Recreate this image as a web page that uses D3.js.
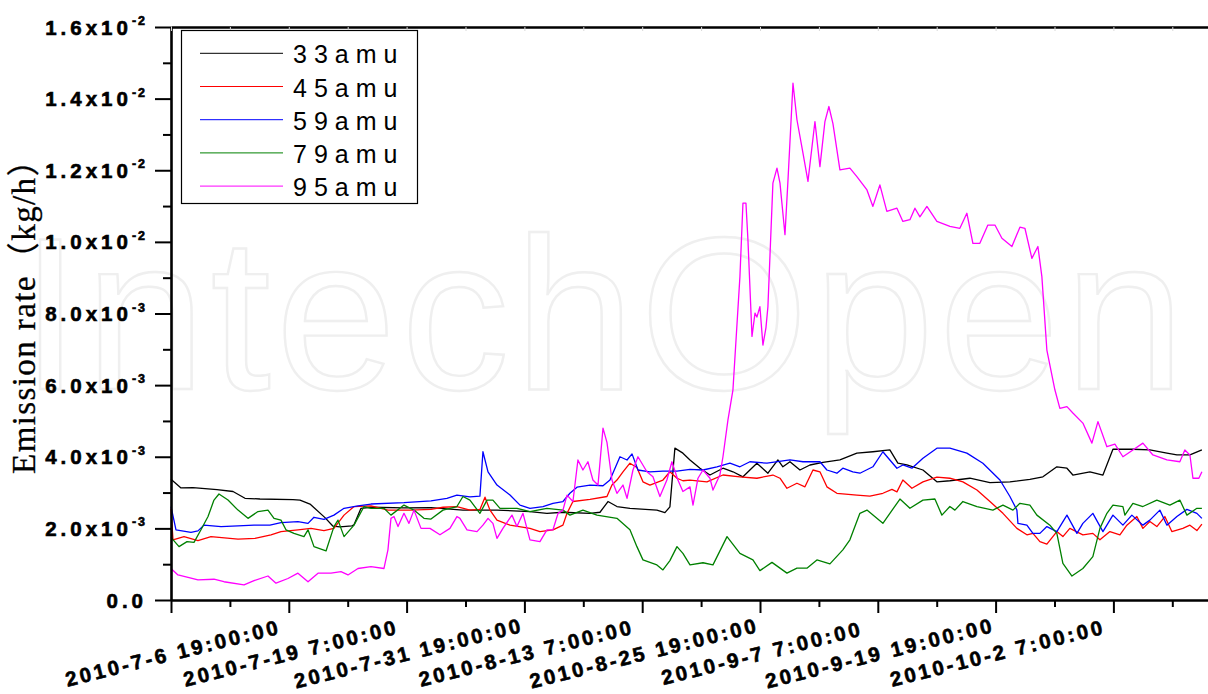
<!DOCTYPE html>
<html><head><meta charset="utf-8">
<script src="https://cdn.jsdelivr.net/npm/d3@7/dist/d3.min.js"></script>
<style>body{margin:0;background:#fff;}svg{display:block;}
.lbl{font-family:Arial,"Liberation Sans",sans-serif;font-weight:700;fill:#000;stroke:#000;stroke-width:0.6px;}
</style>
</head><body>
<script>
// ---- data (time = days since 2010-7-6 19:00, value in 1e-3 kg/h) ----
const seriesNames = ["33amu", "45amu", "59amu", "79amu", "95amu"];
const xTickLabels = ["2010-7-6 19:00:00", "2010-7-19 7:00:00", "2010-7-31 19:00:00", "2010-8-13 7:00:00",
  "2010-8-25 19:00:00", "2010-9-7 7:00:00", "2010-9-19 19:00:00", "2010-10-2 7:00:00", ""];
const yTickValues = [0, 2, 4, 6, 8, 10, 12, 14, 16];
const yTickMantissa = ["0.0", "2.0x10", "4.0x10", "6.0x10", "8.0x10", "1.0x10", "1.2x10", "1.4x10", "1.6x10"];
const yTickExponent = ["", "-3", "-3", "-3", "-3", "-2", "-2", "-2", "-2"];

const s33 = [[0,3.37],[1.06,3.13],[2.33,3.14],[4.88,3.08],[6.58,3.03],[7.85,2.84],[9.44,2.82],[12.94,2.80],[13.69,2.79],
 [14.75,2.68],[16.34,2.30],[17.19,2.06],[17.93,2.04],[19.2,2.07],[19.42,2.10],[20.16,2.56],[21.22,2.59],[24.72,2.57],
 [27.59,2.58],[30.98,2.51],[34.59,2.51],[38.09,2.47],[39.89,2.42],[41.59,2.45],[44.46,2.42],[45.52,2.45],[46.37,2.75],
 [47.32,2.61],[48.7,2.56],[51.56,2.51],[52.41,2.44],[52.94,2.60],[53.47,4.24],[54.32,4.10],[55.07,3.91],[56.13,3.68],
 [57.19,3.49],[58.57,3.68],[59.63,3.58],[60.69,3.44],[62.17,3.82],[63.34,3.54],[64.4,3.91],[64.93,3.72],[65.68,3.86],
 [66.74,3.63],[67.8,3.77],[69.18,3.84],[70.98,3.91],[72.78,4.10],[74.48,4.14],[76.28,4.19],[77.13,3.82],[78.09,3.77],
 [79.79,3.63],[81.27,3.30],[82.65,3.33],[84.77,3.40],[86.9,3.28],[89.02,3.30],[91.14,3.37],[92.52,3.44],[94.0,3.72],
 [95.07,3.68],[95.7,3.49],[97.51,3.58],[98.89,3.49],[99.95,4.21],[102.07,4.21],[103.87,4.19],[105.68,4.10],[106.74,4.05],
 [108.12,4.05],[109.39,4.19]];

const s45 = [[0,2.55],[0.21,1.68],[1.38,1.77],[2.86,1.66],[4.24,1.77],[7.11,1.70],[8.91,1.72],[10.61,1.82],[11.67,1.91],
 [13.47,1.96],[14.85,2.00],[16.23,1.94],[17.29,2.00],[18.36,2.37],[19.42,2.61],[21.22,2.63],[23.02,2.51],[25.36,2.51],
 [27.59,2.53],[28.86,2.59],[30.34,2.61],[31.72,2.51],[32.78,2.53],[33.32,2.87],[33.85,2.51],[34.59,2.23],[35.97,2.09],
 [38.09,2.00],[39.15,1.91],[40.53,1.96],[41.59,2.09],[42.02,2.42],[42.65,2.75],[44.46,2.81],[46.26,2.89],[46.79,3.21],
 [47.32,3.35],[47.96,3.58],[48.7,3.82],[49.44,3.70],[50.08,3.30],[50.82,3.21],[52.2,3.35],[52.94,3.58],[53.69,3.40],
 [54.32,3.33],[55.07,3.35],[56.87,3.30],[58.57,3.49],[60.37,3.44],[62.17,3.40],[63.87,3.49],[64.62,3.40],[65.36,3.12],
 [66.42,3.26],[67.27,3.16],[68.12,3.63],[68.86,3.58],[69.6,3.16],[70.66,2.98],[72.78,2.93],[74.16,2.90],[75.54,2.98],
 [76.5,3.09],[77.03,3.02],[77.66,3.35],[78.62,3.12],[79.79,3.30],[81.27,3.43],[82.65,3.40],[84.03,3.30],[85.52,3.07],
 [86.9,2.75],[88.28,2.42],[89.76,2.00],[90.82,1.82],[91.46,1.86],[92.2,1.63],[92.94,1.56],[94.0,1.91],[94.64,1.77],
 [95.38,2.00],[96.76,1.82],[97.82,1.86],[98.57,1.68],[99.63,1.91],[100.69,1.82],[101.43,2.09],[102.49,2.33],[103.13,2.00],
 [103.87,2.19],[104.61,2.05],[105.46,2.33],[106.2,1.91],[107.37,2.00],[108.12,2.09],[108.86,1.94],[109.39,2.12]];

const s59 = [[0,2.61],[0.53,1.96],[2.12,1.89],[2.86,1.93],[3.5,2.09],[5.31,2.05],[7.11,2.07],[8.81,2.09],[10.5,2.09],
 [11.67,2.16],[13.47,2.19],[14.54,2.14],[15.17,2.31],[16.23,2.25],[17.29,2.37],[18.36,2.56],[19.84,2.63],[21.22,2.68],
 [24.72,2.72],[27.59,2.77],[29.28,2.84],[30.34,2.93],[31.72,2.88],[32.78,2.90],[33.1,4.14],[33.64,3.58],[34.59,3.21],
 [35.97,2.93],[37.03,2.65],[38.09,2.56],[39.47,2.61],[40.53,2.70],[41.59,2.75],[42.33,2.98],[43.08,3.15],[44.46,3.21],
 [45.84,3.19],[46.58,3.35],[47.64,4.00],[48.39,3.91],[48.92,4.08],[49.55,3.63],[50.82,3.58],[52.2,3.60],[53.69,3.60],
 [55.07,3.65],[56.45,3.63],[57.93,3.72],[59.31,3.82],[60.37,3.72],[61.43,3.86],[63.24,3.82],[65.68,3.91],[67.06,3.86],
 [68.86,3.86],[69.6,3.63],[70.66,3.54],[71.29,3.68],[72.35,3.58],[73.1,3.54],[74.48,3.72],[75.54,4.14],[76.28,3.91],
 [77.03,3.68],[77.66,3.77],[78.62,3.68],[79.79,3.96],[81.27,4.24],[82.65,4.24],[84.45,4.10],[86.15,3.82],[87.96,3.35],
 [89.02,2.89],[89.76,2.51],[89.87,2.14],[90.82,2.09],[91.46,1.86],[92.2,1.86],[92.94,2.05],[94.0,1.91],[95.07,2.37],
 [96.13,1.86],[96.76,2.14],[97.82,2.42],[98.89,1.91],[99.95,2.37],[101.01,2.09],[101.96,2.37],[103.13,2.09],[103.87,2.23],
 [104.93,2.51],[105.68,2.09],[106.74,2.33],[107.8,2.53],[108.86,2.42],[109.39,2.28]];

const s79 = [[0,1.75],[0.85,1.49],[1.7,1.63],[2.44,1.61],[3.18,1.96],[3.93,2.33],[4.56,2.79],[5.09,2.96],[6.05,2.79],
 [7.11,2.51],[8.17,2.28],[9.23,2.47],[10.29,2.51],[10.93,2.28],[11.67,2.23],[12.2,1.96],[13.05,1.86],[14.11,1.77],
 [14.54,1.96],[15.17,1.49],[16.45,1.37],[17.29,2.05],[17.72,2.23],[18.36,1.77],[19.42,2.09],[20.48,2.61],[21.22,2.56],
 [22.6,2.56],[23.34,2.37],[24.72,2.65],[25.78,2.51],[26.84,2.28],[27.59,2.26],[28.86,2.51],[30.34,2.61],[30.98,2.89],
 [31.72,2.79],[32.78,2.42],[33.53,2.79],[34.16,2.79],[34.91,2.56],[36.71,2.56],[38.09,2.47],[39.89,2.56],[41.59,2.51],
 [42.33,2.37],[43.71,2.51],[45.2,2.37],[47.32,2.28],[48.7,1.96],[49.44,1.49],[50.08,1.12],[51.56,0.98],[52.2,0.84],
 [52.94,1.10],[53.69,1.49],[54.32,1.30],[55.07,0.98],[56.45,1.04],[57.51,0.98],[59.0,1.77],[60.37,1.30],[61.75,1.12],
 [62.49,0.82],[63.77,1.05],[65.36,0.75],[66.42,0.89],[67.48,0.89],[68.54,1.12],[69.92,1.01],[71.29,1.40],[72.04,1.68],
 [73.1,2.42],[73.85,2.51],[75.54,2.14],[77.35,2.82],[78.41,2.56],[79.79,2.79],[81.06,2.82],[81.8,2.37],[82.65,2.61],
 [83.18,2.51],[84.03,2.75],[85.52,2.61],[87.21,2.51],[88.28,2.65],[89.34,2.51],[90.08,2.70],[91.14,2.65],[91.88,2.37],
 [93.26,2.09],[94.0,1.86],[94.64,1.02],[95.6,0.67],[96.76,0.88],[97.82,1.21],[98.57,2.00],[99.31,2.42],[99.95,2.65],
 [101.01,2.61],[101.22,2.37],[102.07,2.70],[103.13,2.61],[104.61,2.79],[105.99,2.65],[107.05,2.79],[107.8,2.37],
 [108.86,2.56],[109.39,2.56]];

const s95 = [[0,0.88],[0.74,0.70],[2.02,0.62],[2.86,0.56],[4.56,0.58],[5.62,0.51],[7.75,0.42],[8.81,0.54],[10.29,0.67],
 [11.14,0.47],[12.41,0.60],[13.47,0.75],[14.54,0.51],[15.6,0.75],[16.98,0.75],[18.04,0.79],[18.78,0.70],[19.84,0.88],
 [21.22,0.93],[22.6,0.88],[23.02,1.40],[23.34,2.28],[23.66,2.33],[24.09,2.05],[24.72,2.42],[25.25,2.14],[25.78,2.51],
 [26.53,2.00],[27.48,2.00],[28.54,1.82],[29.6,2.00],[30.34,2.33],[30.66,2.28],[31.41,1.96],[32.47,1.91],[33.1,2.09],
 [33.64,2.28],[34.16,2.14],[34.59,1.72],[35.22,2.00],[36.18,2.37],[36.71,2.05],[37.35,2.42],[38.09,1.68],[39.15,1.63],
 [39.89,1.96],[40.53,1.96],[41.07,2.42],[41.59,2.51],[42.02,2.93],[42.65,2.75],[43.18,3.91],[43.71,3.63],[44.24,3.86],
 [44.77,3.35],[45.31,3.21],[45.84,4.80],[46.26,4.40],[46.79,3.35],[47.32,2.98],[47.96,3.21],[48.39,2.84],[49.02,3.63],
 [49.55,4.00],[50.5,3.58],[51.14,3.44],[51.88,2.89],[52.62,3.35],[53.15,3.86],[53.79,3.35],[54.32,3.03],[55.07,3.16],
 [55.39,2.65],[55.92,3.40],[56.45,3.63],[57.19,3.40],[57.51,3.07],[58.25,3.50],[58.57,4.00],[59.1,5.03],[59.63,5.87],
 [60.37,9.03],[60.69,11.08],[61.01,11.08],[61.22,10.06],[61.65,7.36],[61.97,8.01],[62.17,7.90],[62.49,8.19],[62.81,7.12],
 [63.13,7.60],[63.34,8.19],[63.87,11.64],[64.3,12.06],[64.62,11.64],[65.15,10.20],[65.47,11.73],[66.0,14.43],[66.42,13.41],
 [67.06,12.48],[67.59,11.69],[68.33,13.36],[68.86,12.10],[69.39,13.36],[69.81,13.78],[70.24,13.30],[70.98,12.01],
 [72.04,12.06],[72.78,11.82],[73.85,11.45],[74.48,10.99],[75.22,11.59],[75.96,10.85],[77.03,10.94],[77.66,10.57],
 [78.41,10.62],[78.94,10.94],[79.47,10.70],[80.21,10.99],[81.27,10.57],[82.65,10.43],[83.71,10.38],[84.45,10.80],
 [85.09,9.96],[85.83,9.96],[86.68,10.47],[87.43,10.47],[88.17,10.10],[89.23,9.87],[90.08,10.41],[90.61,10.38],[91.35,9.54],
 [91.99,9.87],[92.41,9.03],[92.94,6.98],[93.79,5.87],[94.32,5.35],[95.07,5.40],[95.7,5.22],[96.76,4.94],[97.72,4.38],
 [98.36,4.98],[99.31,4.28],[100.16,4.35],[101.01,4.00],[102.07,4.19],[103.13,4.38],[104.19,4.05],[105.68,3.91],
 [107.05,3.86],[107.58,4.19],[108.12,4.05],[108.44,3.40],[109.07,3.40],[109.39,3.58]];

const seriesData = [s33, s45, s59, s79, s95];
const seriesColors = ["#000000", "#ff0000", "#0000ff", "#008000", "#ff00ff"];

// ---- chart ----
const W = 1208, H = 694;
const svg = d3.select("body").append("svg").attr("width", W).attr("height", H);
const start = new Date(2010, 6, 6, 19, 0, 0);
const HOUR = 3600e3, DAY = 86400e3;
const tickTimes = d3.range(9).map(k => new Date(+start + k * 300 * HOUR));
const minorTimes = d3.range(9).map(k => new Date(+start + (k + 0.5) * 300 * HOUR));

const x = d3.scaleTime().domain([start, new Date(+start + 2700 * HOUR)]).range([171, 1231.2]);
const y = d3.scaleLinear().domain([0, 16]).range([600, 27]);

// watermark
svg.append("text").attr("x", 20).attr("y", 389)
  .attr("textLength", 1165).attr("lengthAdjust", "spacing")
  .style("font-family", "Arial, 'Liberation Sans', sans-serif").style("font-size", "217px")
  .attr("fill", "none").attr("stroke", "#efefef").attr("stroke-width", 2.4)
  .text("IntechOpen");

// series lines
const line = d3.line().x(d => x(new Date(+start + d[0] * DAY))).y(d => y(d[1]));
seriesData.forEach((s, i) => {
  svg.append("path").datum(s).attr("fill", "none").attr("stroke", seriesColors[i])
    .attr("stroke-width", 1.3).attr("stroke-linejoin", "round").attr("d", line);
});

// axes
const axisStyle = g => { g.selectAll("path,line").attr("stroke", "#000"); };
svg.append("g").attr("transform", "translate(171,0)")
  .call(d3.axisLeft(y).tickValues(yTickValues).tickSize(16).tickSizeOuter(0).tickFormat(""))
  .call(axisStyle).call(g => { g.select(".domain").attr("stroke-width", 2.6); g.selectAll(".tick line").attr("stroke-width", 2); });
svg.append("g").attr("transform", "translate(171,0)")
  .call(d3.axisLeft(y).tickValues(d3.range(1, 16, 2)).tickSize(8).tickFormat(""))
  .call(axisStyle).call(g => { g.select(".domain").remove(); g.selectAll(".tick line").attr("stroke-width", 2); });

svg.append("g").attr("transform", "translate(0,600)")
  .call(d3.axisBottom(x).tickValues(tickTimes).tickSize(13).tickSizeOuter(0).tickFormat(""))
  .call(axisStyle).call(g => { g.select(".domain").attr("stroke-width", 2.6); g.selectAll(".tick line").attr("stroke-width", 2); });
svg.append("g").attr("transform", "translate(0,600)")
  .call(d3.axisBottom(x).tickValues(minorTimes).tickSize(7).tickFormat(""))
  .call(axisStyle).call(g => { g.select(".domain").remove(); g.selectAll(".tick line").attr("stroke-width", 2); });

// top frame
svg.append("g").attr("transform", "translate(0,27)")
  .call(d3.axisBottom(x).tickValues(tickTimes.concat(minorTimes)).tickSize(4).tickSizeOuter(0).tickFormat(""))
  .call(g => { g.select(".domain").attr("stroke", "#000").attr("stroke-width", 2.6); g.selectAll(".tick line").attr("stroke", "#d8d8d8"); });

// y tick labels
const yl = svg.append("g");
yTickValues.forEach((v, i) => {
  const t = yl.append("text").attr("class", "lbl")
    .attr("x", 147).attr("y", y(v) + 7.5).attr("text-anchor", "end")
    .style("font-size", "20.5px").style("letter-spacing", "4px");
  t.append("tspan").text(yTickMantissa[i]);
  if (yTickExponent[i]) {
    t.append("tspan").attr("dy", -9.5).style("font-size", "12.5px").style("letter-spacing", "2px").text(yTickExponent[i]);
  }
});

// x tick labels
const xl = svg.append("g");
tickTimes.forEach((t, i) => {
  if (!xTickLabels[i]) return;
  xl.append("text").attr("class", "lbl")
    .attr("transform", `translate(${x(t) + 2},653) rotate(-14)`)
    .attr("text-anchor", "middle").attr("dy", "0.35em")
    .style("font-size", "20.5px").style("letter-spacing", "3px").text(xTickLabels[i]);
});

// y title
svg.append("text").attr("transform", "translate(35,308) rotate(-90)").attr("text-anchor", "middle")
  .style("font-family", "'Liberation Serif', 'Times New Roman', 'Noto Sans CJK SC', serif").style("font-size", "33px")
  .style("letter-spacing", "1.4px").attr("stroke", "#000").attr("stroke-width", 0.3)
  .text("Emission rate（kg/h）");

// legend
const lg = svg.append("g");
lg.append("rect").attr("x", 181.5).attr("y", 30.5).attr("width", 236).attr("height", 173)
  .attr("fill", "#fff").attr("stroke", "#000").attr("stroke-width", 1.2);
seriesNames.forEach((n, i) => {
  const ly = 53.3 + i * 33.2;
  lg.append("line").attr("x1", 200).attr("x2", 283).attr("y1", ly).attr("y2", ly)
    .attr("stroke", seriesColors[i]).attr("stroke-width", 1);
  lg.append("text").attr("x", 293).attr("y", ly + 10)
    .style("font-family", "Arial, 'Liberation Sans', sans-serif").style("font-size", "25px")
    .style("letter-spacing", "7px").text(n);
});
</script>
</body></html>
